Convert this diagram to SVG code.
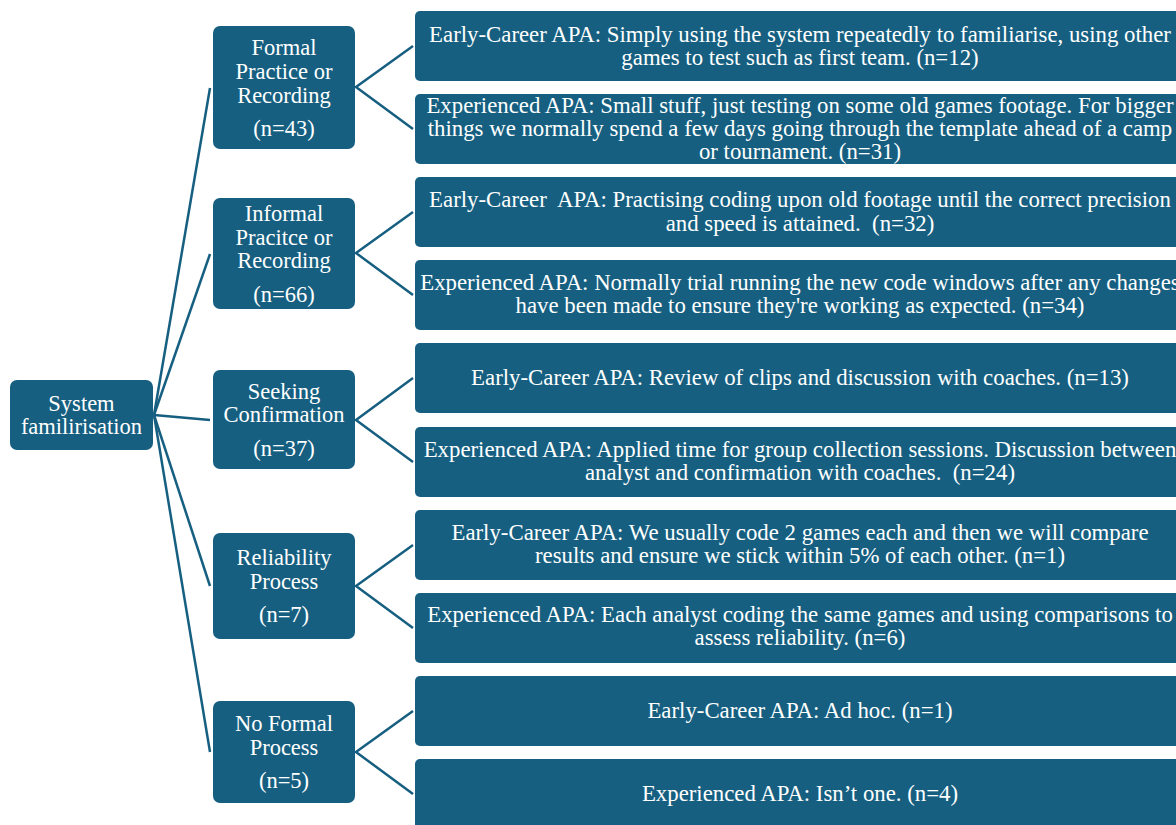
<svg xmlns="http://www.w3.org/2000/svg" width="1176" height="825" viewBox="0 0 1176 825">
<style>
.box{fill:#165f81;}
.t{font-family:"Liberation Serif","Times New Roman",serif;fill:#ffffff;text-anchor:middle;font-size:22.5px;}
.r{font-family:"Liberation Serif","Times New Roman",serif;fill:#ffffff;text-anchor:middle;font-size:22.8px;}
.c{stroke:#165f81;stroke-width:2.5;fill:none;}
</style>
<rect width="1176" height="825" fill="#ffffff"/>
<g id="connectors">
<line class="c" x1="154" y1="415" x2="210" y2="88"/>
<line class="c" x1="154" y1="415" x2="210" y2="254"/>
<line class="c" x1="154" y1="415" x2="210" y2="420"/>
<line class="c" x1="154" y1="415" x2="210" y2="586"/>
<line class="c" x1="154" y1="415" x2="210" y2="752"/>
<polyline class="c" points="413,46 356,87 413,129"/>
<polyline class="c" points="413,212 356,253 413,295"/>
<polyline class="c" points="413,378 356,420 413,462"/>
<polyline class="c" points="413,545 356,586 413,628"/>
<polyline class="c" points="413,711 356,752 413,794"/>
</g>
<g id="root">
<rect class="box" x="10" y="380" width="143" height="70" rx="7"/>
<text class="t" x="81.5" y="411">System</text>
<text class="t" x="81.5" y="434">familirisation</text>
</g>
<g id="formal">
<rect class="box" x="213" y="26" width="142" height="123" rx="7"/>
<text class="t" x="284" y="55">Formal</text>
<text class="t" x="284" y="79">Practice or</text>
<text class="t" x="284" y="103">Recording</text>
<text class="t" x="284" y="136">(n=43)</text>
</g>
<g id="informal">
<rect class="box" x="213" y="198" width="142" height="111" rx="7"/>
<text class="t" x="284" y="221">Informal</text>
<text class="t" x="284" y="245">Pracitce or</text>
<text class="t" x="284" y="268">Recording</text>
<text class="t" x="284" y="302">(n=66)</text>
</g>
<g id="seeking">
<rect class="box" x="213" y="370" width="142" height="99" rx="7"/>
<text class="t" x="284" y="399">Seeking</text>
<text class="t" x="284" y="422">Confirmation</text>
<text class="t" x="284" y="456">(n=37)</text>
</g>
<g id="reliability">
<rect class="box" x="213" y="533" width="142" height="106" rx="7"/>
<text class="t" x="284" y="565">Reliability</text>
<text class="t" x="284" y="589">Process</text>
<text class="t" x="284" y="622">(n=7)</text>
</g>
<g id="noformal">
<rect class="box" x="213" y="701" width="142" height="102" rx="7"/>
<text class="t" x="284" y="731">No Formal</text>
<text class="t" x="284" y="755">Process</text>
<text class="t" x="284" y="788">(n=5)</text>
</g>
<g id="formal-early">
<rect class="box" x="415" y="11" width="800" height="70" rx="5"/>
<text class="r" x="800" y="42">Early-Career APA: Simply using the system repeatedly to familiarise, using other</text>
<text class="r" x="800" y="65">games to test such as first team. (n=12)</text>
</g>
<g id="formal-exp">
<rect class="box" x="415" y="94" width="800" height="70" rx="5"/>
<text class="r" x="800" y="113">Experienced APA: Small stuff, just testing on some old games footage. For bigger</text>
<text class="r" x="800" y="136">things we normally spend a few days going through the template ahead of a camp</text>
<text class="r" x="800" y="159">or tournament. (n=31)</text>
</g>
<g id="informal-early">
<rect class="box" x="415" y="177" width="800" height="70" rx="5"/>
<text class="r" x="800" y="207" xml:space="preserve">Early-Career  APA: Practising coding upon old footage until the correct precision</text>
<text class="r" x="800" y="231" xml:space="preserve">and speed is attained.  (n=32)</text>
</g>
<g id="informal-exp">
<rect class="box" x="415" y="260" width="800" height="70" rx="5"/>
<text class="r" x="800" y="290">Experienced APA: Normally trial running the new code windows after any changes</text>
<text class="r" x="800" y="313">have been made to ensure they're working as expected. (n=34)</text>
</g>
<g id="seeking-early">
<rect class="box" x="415" y="343" width="800" height="70" rx="5"/>
<text class="r" x="800" y="385">Early-Career APA: Review of clips and discussion with coaches. (n=13)</text>
</g>
<g id="seeking-exp">
<rect class="box" x="415" y="427" width="800" height="70" rx="5"/>
<text class="r" x="800" y="457">Experienced APA: Applied time for group collection sessions. Discussion between</text>
<text class="r" x="800" y="480" xml:space="preserve">analyst and confirmation with coaches.  (n=24)</text>
</g>
<g id="reliability-early">
<rect class="box" x="415" y="510" width="800" height="70" rx="5"/>
<text class="r" x="800" y="540">Early-Career APA: We usually code 2 games each and then we will compare</text>
<text class="r" x="800" y="563">results and ensure we stick within 5% of each other. (n=1)</text>
</g>
<g id="reliability-exp">
<rect class="box" x="415" y="593" width="800" height="70" rx="5"/>
<text class="r" x="800" y="622">Experienced APA: Each analyst coding the same games and using comparisons to</text>
<text class="r" x="800" y="645">assess reliability. (n=6)</text>
</g>
<g id="noformal-early">
<rect class="box" x="415" y="676" width="800" height="70" rx="5"/>
<text class="r" x="800" y="718">Early-Career APA: Ad hoc. (n=1)</text>
</g>
<g id="noformal-exp">
<rect class="box" x="415" y="759" width="800" height="70" rx="5"/>
<text class="r" x="800" y="801">Experienced APA: Isn’t one. (n=4)</text>
</g>
</svg>
